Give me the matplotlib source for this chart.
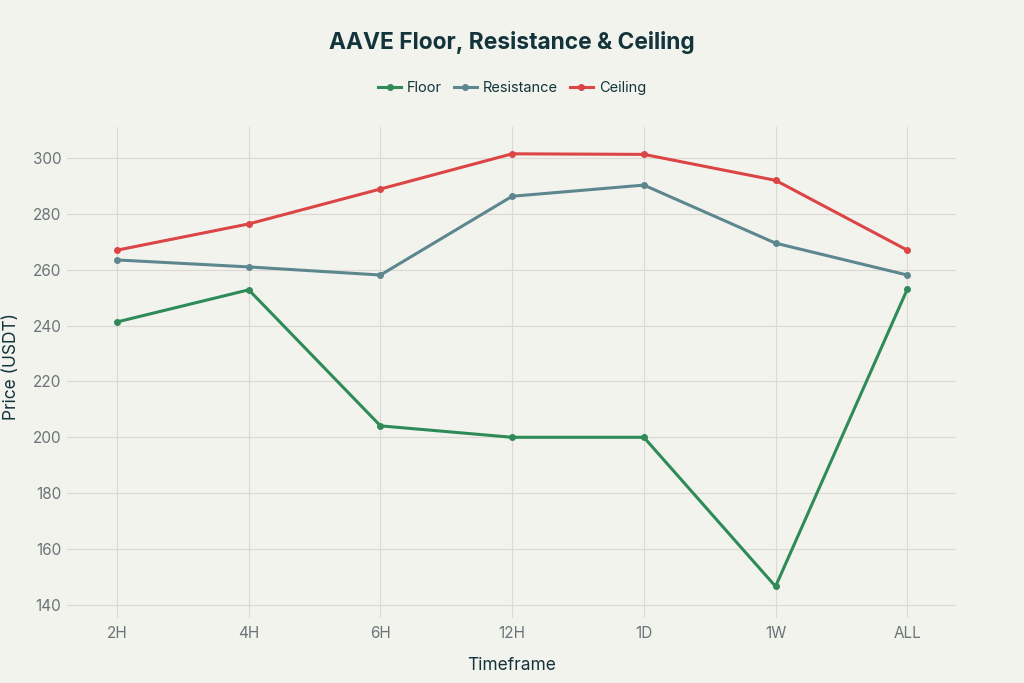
import matplotlib.pyplot as plt

timeframes = ["2H", "4H", "6H", "12H", "1D", "1W", "ALL"]
floor = [241.3, 252.8, 204.1, 200.0, 200.0, 146.6, 253.0]
resistance = [263.5, 261.0, 258.1, 286.3, 290.3, 269.5, 258.1]
ceiling = [267.0, 276.4, 288.9, 301.5, 301.3, 292.0, 267.0]

BG = "#F3F3EE"
TEXT = "#13343B"
TICK = "#6B7478"
GRID = "#DDD8D3"

plt.rcParams["font.family"] = ["Inter", "DejaVu Sans"]

fig = plt.figure(figsize=(10.24, 6.83), dpi=100, facecolor=BG)
ax = fig.add_axes([67 / 1024, 1 - 618 / 683, (956 - 67) / 1024, (618 - 127) / 683])
ax.set_facecolor(BG)

x = list(range(len(timeframes)))
series = [("Floor", floor, "#2E8B57"),
          ("Resistance", resistance, "#5D878F"),
          ("Ceiling", ceiling, "#DB4545")]
for name, vals, color in series:
    ax.plot(x, vals, color=color, lw=2.2, marker="o", ms=4, label=name)

ax.set_xlim(-0.38, 6.37)
ax.set_ylim(135.3, 311.1)
ax.set_xticks(x)
ax.set_xticklabels(timeframes)
ax.set_yticks(range(140, 301, 20))
ax.grid(True, color=GRID, lw=0.8)
ax.set_axisbelow(True)
for s in ax.spines.values():
    s.set_visible(False)
ax.tick_params(axis="both", labelcolor=TICK, labelsize=11, length=0)
ax.tick_params(axis="x", pad=6)
ax.tick_params(axis="y", pad=4)

# axis titles placed on the figure so they sit where the reference has them
fig.text(0.5, 1 - 666 / 683, "Timeframe", ha="center", va="center",
         fontsize=12.5, color=TEXT)
fig.text(12 / 1024, 1 - 367 / 683, "Price (USDT)", ha="center", va="center",
         rotation=90, fontsize=12.5, color=TEXT)

fig.text(0.5, 1 - 43 / 683, "AAVE Floor, Resistance & Ceiling", ha="center", va="center",
         fontsize=16.4, fontweight="bold", color=TEXT)
fig.legend(loc="center", bbox_to_anchor=(0.5, 1 - 88 / 683), ncol=3, frameon=False,
           fontsize=10.5, labelcolor=TEXT, handlelength=1.6, handletextpad=0.4,
           columnspacing=0.8)

fig.savefig("out.png", dpi=100, facecolor=BG)
